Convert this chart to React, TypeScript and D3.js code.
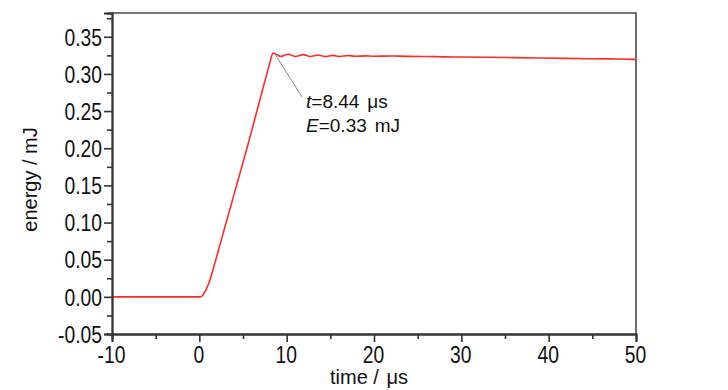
import React, { useEffect, useRef } from "react";
import * as d3 from "d3";

// energy vs time trace
const times = [-10, 0, 0.3, 0.6, 0.9, 1.2, 1.6, 2.5, 3.5, 4.5, 5.5, 6.5, 7.2, 7.8, 8.1, 8.44, 8.8, 9.3, 10.2, 11.0, 11.9, 12.7, 13.6, 14.4, 15.3, 16.1, 17.0, 17.8, 19, 20, 22, 24, 26, 28, 30, 33, 36, 39, 42, 45, 48, 50];
const energies = [0, 0, 0.001, 0.006, 0.013, 0.022, 0.038, 0.076, 0.118, 0.16, 0.202, 0.246, 0.277, 0.303, 0.316, 0.328, 0.3265, 0.3235, 0.3265, 0.3235, 0.326, 0.3235, 0.3255, 0.3235, 0.325, 0.3235, 0.3248, 0.3237, 0.3243, 0.3238, 0.3242, 0.3236, 0.3235, 0.323, 0.3228, 0.3224, 0.322, 0.3215, 0.321, 0.3205, 0.32, 0.3195];

const xTicks = [-10, 0, 10, 20, 30, 40, 50];
const xMinor = [-5, 5, 15, 25, 35, 45];
const yTicks = [-0.05, 0, 0.05, 0.1, 0.15, 0.2, 0.25, 0.3, 0.35];
const yMinor = [-0.025, 0.025, 0.075, 0.125, 0.175, 0.225, 0.275, 0.325, 0.375];

const peak = { t: 8.44, e: 0.328 };

const width = 728;
const height = 390;
const margin = { top: 13, right: 92, bottom: 56, left: 112 };
const font = "'Liberation Sans', Arial, sans-serif";

export default function App() {
  const svgRef = useRef(null);

  useEffect(() => {
    const svg = d3.select(svgRef.current);
    svg.selectAll("*").remove();

    const x = d3.scaleLinear().domain([-10, 50]).range([margin.left, width - margin.right]);
    const y = d3.scaleLinear().domain([-0.05, 0.382]).range([height - margin.bottom, margin.top]);
    const x0 = x.range()[0], x1 = x.range()[1];
    const y0 = y.range()[0], y1 = y.range()[1];

    // frame top + right
    svg.append("path")
      .attr("d", `M${x0},${y1}H${x1}V${y0}`)
      .attr("fill", "none")
      .attr("stroke", "#4a4a4a")
      .attr("stroke-width", 1.6);

    // the curve
    const line = d3.line()
      .x((d, i) => x(times[i]))
      .y(d => y(d))
      .curve(d3.curveMonotoneX);
    svg.append("path")
      .datum(energies)
      .attr("d", line)
      .attr("fill", "none")
      .attr("stroke", "#ff2b2b")
      .attr("stroke-width", 1.6);

    // axes
    const styleAxis = (g) => {
      g.select(".domain").attr("stroke", "#333").attr("stroke-width", 1.8);
      g.selectAll(".tick line").attr("stroke", "#333").attr("stroke-width", 1.6);
    };

    const yMinorAxis = svg.append("g")
      .attr("transform", `translate(${x0},0)`)
      .call(d3.axisLeft(y).tickValues(yMinor).tickSize(5).tickFormat(() => ""));
    styleAxis(yMinorAxis);

    const xMinorAxis = svg.append("g")
      .attr("transform", `translate(0,${y0})`)
      .call(d3.axisBottom(x).tickValues(xMinor).tickSize(5).tickFormat(() => ""));
    styleAxis(xMinorAxis);

    const yAxis = svg.append("g")
      .attr("transform", `translate(${x0},0)`)
      .call(d3.axisLeft(y).tickValues(yTicks).tickSize(8).tickFormat(d3.format(".2f")));
    styleAxis(yAxis);
    yAxis.selectAll("text")
      .attr("x", null)
      .attr("dy", "0.36em")
      .attr("transform", "translate(-10,0) scale(0.84,1)")
      .attr("font-family", font)
      .attr("font-size", 23)
      .attr("fill", "#111")
      .text(d => d3.format(".2f")(d).replace("−", "-"));

    const xAxis = svg.append("g")
      .attr("transform", `translate(0,${y0})`)
      .call(d3.axisBottom(x).tickValues(xTicks).tickSize(8));
    styleAxis(xAxis);
    xAxis.selectAll("text")
      .attr("y", null)
      .attr("dy", null)
      .attr("transform", "translate(-1,29) scale(0.84,1)")
      .attr("font-family", font)
      .attr("font-size", 23)
      .attr("fill", "#111")
      .text(d => String(d));

    // axis titles
    const xt = svg.append("text")
      .attr("x", (x0 + x1) / 2 - 5)
      .attr("y", 384)
      .attr("text-anchor", "middle")
      .attr("font-family", font)
      .attr("font-size", 20)
      .attr("fill", "#111");
    xt.append("tspan").text("time / ");
    xt.append("tspan").attr("dx", 2).text("μs");

    svg.append("text")
      .attr("transform", `translate(37,${(y0 + y1) / 2 + 6}) rotate(-90)`)
      .attr("text-anchor", "middle")
      .attr("font-family", font)
      .attr("font-size", 20)
      .attr("fill", "#111")
      .text("energy / mJ");

    // annotation
    svg.append("line")
      .attr("x1", x(peak.t) + 2)
      .attr("y1", y(peak.e) + 1)
      .attr("x2", 302)
      .attr("y2", 97)
      .attr("stroke", "#888")
      .attr("stroke-width", 1);

    const a1 = svg.append("text")
      .attr("x", 306)
      .attr("y", 108)
      .attr("font-family", font)
      .attr("font-size", 19)
      .attr("fill", "#111");
    a1.append("tspan").attr("font-style", "italic").text("t");
    a1.append("tspan").text(`=${peak.t.toFixed(2)}`);
    a1.append("tspan").attr("dx", 8).text("μs");

    const a2 = svg.append("text")
      .attr("x", 306)
      .attr("y", 132)
      .attr("font-family", font)
      .attr("font-size", 19)
      .attr("fill", "#111");
    a2.append("tspan").attr("font-style", "italic").text("E");
    a2.append("tspan").text(`=${peak.e.toFixed(2)}`);
    a2.append("tspan").attr("dx", 8).text("mJ");
  }, []);

  return (
    <svg
      ref={svgRef}
      width={width}
      height={height}
      style={{ position: "absolute", left: 0, top: 0, background: "#fff" }}
    />
  );
}
